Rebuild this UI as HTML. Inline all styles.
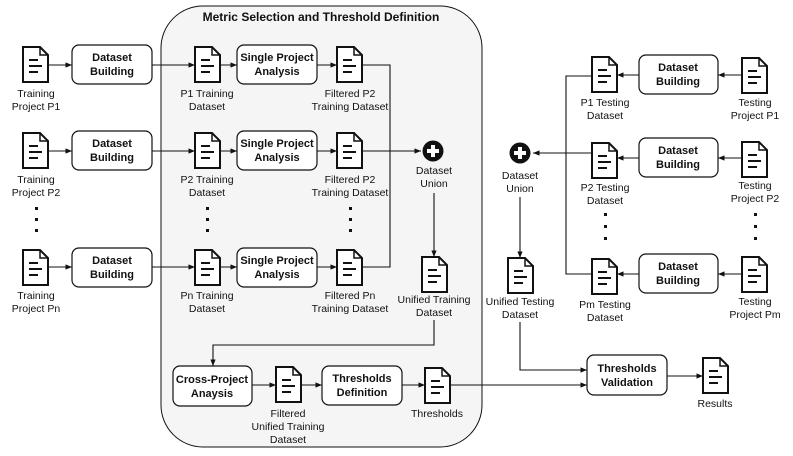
<!DOCTYPE html>
<html><head><meta charset="utf-8"><style>
html,body{margin:0;padding:0;background:#fff;}
svg{display:block;font-family:"Liberation Sans",Arial,sans-serif;}
.t{font-size:10.5px;fill:#111;text-anchor:middle;}
.b{font-size:11px;font-weight:bold;fill:#111;text-anchor:middle;}
.box{fill:#fff;stroke:#111;stroke-width:1.2;}
.ln{fill:none;stroke:#111;stroke-width:1.1;}
</style></head><body>
<svg width="793" height="456" viewBox="0 0 793 456" xmlns="http://www.w3.org/2000/svg">
<defs>
<marker id="a" viewBox="0 0 10 10" refX="10" refY="5" markerWidth="6" markerHeight="6" orient="auto"><path d="M0,1 L10,5 L0,9 z" fill="#111"/></marker>
<g id="doc">
<path d="M0,0 H17 L25,8 V35 H0 Z" fill="#fff" stroke="#111" stroke-width="2"/>
<path d="M17,0 V8 H25" fill="none" stroke="#111" stroke-width="1.5"/>
<path d="M6,13 H15 M6,19 H19 M6,25 H15" stroke="#111" stroke-width="2"/>
</g>
<g id="plus">
<circle r="10.5" fill="#111"/>
<path d="M0,-6 V6 M-6,0 H6" stroke="#fff" stroke-width="4"/>
</g>
</defs>
<!-- container -->
<rect x="161" y="6" width="321" height="441" rx="42" fill="#f5f5f5" stroke="#111" stroke-width="1"/>
<text x="321" y="21" class="b" style="font-size:12px">Metric Selection and Threshold Definition</text>

<!-- left rows -->
<g>
<use href="#doc" x="23" y="47"/>
<text class="t" x="36" y="97">Training</text><text class="t" x="36" y="110">Project P1</text>
<rect class="box" x="72" y="45" width="80" height="39" rx="7"/>
<text class="b" x="112" y="61">Dataset</text><text class="b" x="112" y="75">Building</text>
<use href="#doc" x="195" y="47"/>
<text class="t" x="207" y="97">P1 Training</text><text class="t" x="207" y="110">Dataset</text>
<rect class="box" x="237" y="45" width="80" height="39" rx="7"/>
<text class="b" x="277" y="61">Single Project</text><text class="b" x="277" y="75">Analysis</text>
<use href="#doc" x="337" y="47"/>
<text class="t" x="350" y="97">Filtered P2</text><text class="t" x="350" y="110">Training Dataset</text>
<path class="ln" d="M48,65 H72" marker-end="url(#a)"/>
<path class="ln" d="M152,65 H195" marker-end="url(#a)"/>
<path class="ln" d="M220,65 H237" marker-end="url(#a)"/>
<path class="ln" d="M317,65 H337" marker-end="url(#a)"/>
</g>
<g>
<use href="#doc" x="23" y="133"/>
<text class="t" x="36" y="183">Training</text><text class="t" x="36" y="196">Project P2</text>
<rect class="box" x="72" y="131" width="80" height="39" rx="7"/>
<text class="b" x="112" y="147">Dataset</text><text class="b" x="112" y="161">Building</text>
<use href="#doc" x="195" y="133"/>
<text class="t" x="207" y="183">P2 Training</text><text class="t" x="207" y="196">Dataset</text>
<rect class="box" x="237" y="131" width="80" height="39" rx="7"/>
<text class="b" x="277" y="147">Single Project</text><text class="b" x="277" y="161">Analysis</text>
<use href="#doc" x="337" y="133"/>
<text class="t" x="350" y="183">Filtered P2</text><text class="t" x="350" y="196">Training Dataset</text>
<path class="ln" d="M48,151 H72" marker-end="url(#a)"/>
<path class="ln" d="M152,151 H195" marker-end="url(#a)"/>
<path class="ln" d="M220,151 H237" marker-end="url(#a)"/>
<path class="ln" d="M317,151 H337" marker-end="url(#a)"/>
</g>
<g>
<use href="#doc" x="23" y="250"/>
<text class="t" x="36" y="299">Training</text><text class="t" x="36" y="312">Project Pn</text>
<rect class="box" x="72" y="248" width="80" height="39" rx="7"/>
<text class="b" x="112" y="264">Dataset</text><text class="b" x="112" y="278">Building</text>
<use href="#doc" x="195" y="250"/>
<text class="t" x="207" y="299">Pn Training</text><text class="t" x="207" y="312">Dataset</text>
<rect class="box" x="237" y="248" width="80" height="39" rx="7"/>
<text class="b" x="277" y="264">Single Project</text><text class="b" x="277" y="278">Analysis</text>
<use href="#doc" x="337" y="250"/>
<text class="t" x="350" y="299">Filtered Pn</text><text class="t" x="350" y="312">Training Dataset</text>
<path class="ln" d="M48,267 H72" marker-end="url(#a)"/>
<path class="ln" d="M152,267 H195" marker-end="url(#a)"/>
<path class="ln" d="M220,267 H237" marker-end="url(#a)"/>
<path class="ln" d="M317,267 H337" marker-end="url(#a)"/>
</g>
<!-- dots -->
<g fill="#111">
<rect x="35" y="207" width="3" height="3"/><rect x="35" y="218" width="3" height="3"/><rect x="35" y="229" width="3" height="3"/>
<rect x="206" y="207" width="3" height="3"/><rect x="206" y="218" width="3" height="3"/><rect x="206" y="229" width="3" height="3"/>
<rect x="349" y="207" width="3" height="3"/><rect x="349" y="218" width="3" height="3"/><rect x="349" y="229" width="3" height="3"/>
<rect x="604" y="213" width="3" height="3"/><rect x="604" y="225" width="3" height="3"/><rect x="604" y="237" width="3" height="3"/>
<rect x="754" y="213" width="3" height="3"/><rect x="754" y="225" width="3" height="3"/><rect x="754" y="237" width="3" height="3"/>
</g>
<!-- union training -->
<path class="ln" d="M362,65 H390 V267 H362"/>
<path class="ln" d="M362,151 H421" marker-end="url(#a)"/>
<use href="#plus" x="433" y="151"/>
<text class="t" x="434" y="174">Dataset</text><text class="t" x="434" y="187">Union</text>
<path class="ln" d="M434,193 V257" marker-end="url(#a)"/>
<use href="#doc" x="422" y="257"/>
<text class="t" x="434" y="303">Unified Training</text><text class="t" x="434" y="316">Dataset</text>
<path class="ln" d="M434,320 V345 H213 V366" marker-end="url(#a)"/>
<rect class="box" x="173" y="366" width="79" height="40" rx="7"/>
<text class="b" x="212" y="383">Cross-Project</text><text class="b" x="212" y="397">Anaysis</text>
<path class="ln" d="M252,385 H276" marker-end="url(#a)"/>
<use href="#doc" x="276" y="367"/>
<text class="t" x="288" y="417">Filtered</text><text class="t" x="288" y="430">Unified Training</text><text class="t" x="288" y="443">Dataset</text>
<path class="ln" d="M301,385 H322" marker-end="url(#a)"/>
<rect class="box" x="322" y="366" width="80" height="39" rx="7"/>
<text class="b" x="362" y="382">Thresholds</text><text class="b" x="362" y="396">Definition</text>
<path class="ln" d="M402,385 H425" marker-end="url(#a)"/>
<use href="#doc" x="425" y="368"/>
<text class="t" x="437" y="417">Thresholds</text>
<path class="ln" d="M450,385 H587" marker-end="url(#a)"/>
<!-- right side -->
<g>
<use href="#doc" x="592" y="57"/>
<text class="t" x="605" y="106">P1 Testing</text><text class="t" x="605" y="119">Dataset</text>
<rect class="box" x="639" y="55" width="79" height="39" rx="7"/>
<text class="b" x="678" y="71">Dataset</text><text class="b" x="678" y="85">Building</text>
<use href="#doc" x="742" y="58"/>
<text class="t" x="755" y="106">Testing</text><text class="t" x="755" y="119">Project P1</text>
<path class="ln" d="M742,75 H718" marker-end="url(#a)"/>
<path class="ln" d="M639,75 H617" marker-end="url(#a)"/>
</g>
<g>
<use href="#doc" x="592" y="143"/>
<text class="t" x="605" y="191">P2 Testing</text><text class="t" x="605" y="204">Dataset</text>
<rect class="box" x="639" y="138" width="79" height="39" rx="7"/>
<text class="b" x="678" y="154">Dataset</text><text class="b" x="678" y="168">Building</text>
<use href="#doc" x="742" y="142"/>
<text class="t" x="755" y="189">Testing</text><text class="t" x="755" y="202">Project P2</text>
<path class="ln" d="M742,158 H718" marker-end="url(#a)"/>
<path class="ln" d="M639,158 H617" marker-end="url(#a)"/>
</g>
<g>
<use href="#doc" x="592" y="259"/>
<text class="t" x="605" y="308">Pm Testing</text><text class="t" x="605" y="321">Dataset</text>
<rect class="box" x="639" y="254" width="79" height="39" rx="7"/>
<text class="b" x="678" y="270">Dataset</text><text class="b" x="678" y="284">Building</text>
<use href="#doc" x="742" y="257"/>
<text class="t" x="755" y="305">Testing</text><text class="t" x="755" y="318">Project Pm</text>
<path class="ln" d="M742,274 H718" marker-end="url(#a)"/>
<path class="ln" d="M639,274 H617" marker-end="url(#a)"/>
</g>
<path class="ln" d="M592,76 H566 V274 H592"/>
<path class="ln" d="M592,153 H533" marker-end="url(#a)"/>
<use href="#plus" x="520" y="153"/>
<text class="t" x="520" y="179">Dataset</text><text class="t" x="520" y="192">Union</text>
<path class="ln" d="M520,197 V258" marker-end="url(#a)"/>
<use href="#doc" x="508" y="258"/>
<text class="t" x="520" y="305">Unified Testing</text><text class="t" x="520" y="318">Dataset</text>
<path class="ln" d="M520,322 V370 H587" marker-end="url(#a)"/>
<rect class="box" x="587" y="355" width="80" height="40" rx="7"/>
<text class="b" x="627" y="372">Thresholds</text><text class="b" x="627" y="386">Validation</text>
<path class="ln" d="M667,376 H703" marker-end="url(#a)"/>
<use href="#doc" x="703" y="358"/>
<text class="t" x="715" y="407">Results</text>
</svg>
</body></html>
